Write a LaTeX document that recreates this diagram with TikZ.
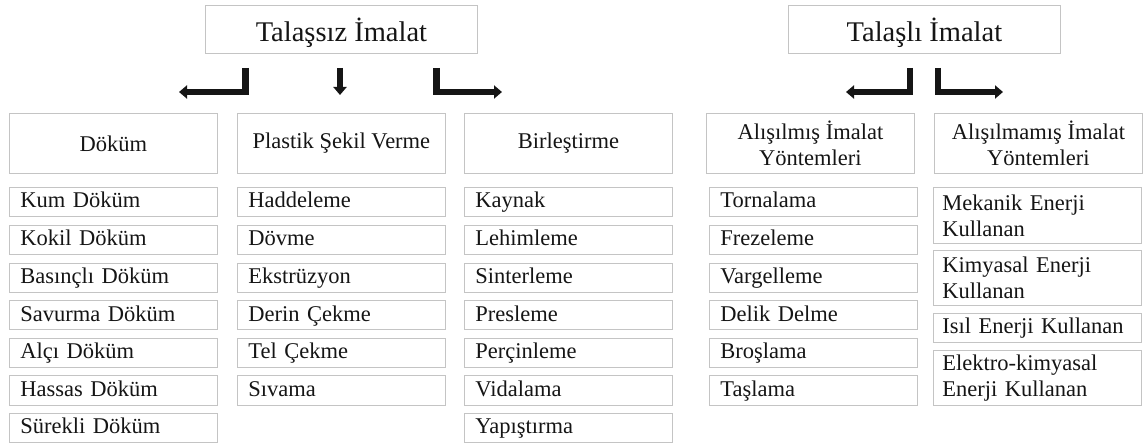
\documentclass[tikz,border=0pt]{standalone}
\usepackage{fontspec}
\setmainfont{Liberation Serif}
\usetikzlibrary{arrows.meta}
\definecolor{boxgray}{HTML}{C4C4C4}
\definecolor{ink}{HTML}{151515}
\newcommand{\itemfnt}{\fontsize{22.5}{26}\selectfont}
\newcommand{\titlefnt}{\fontsize{28.5}{32}\selectfont}
\begin{document}
\begin{tikzpicture}[x=1pt,y=-1pt,
  box/.style={draw=boxgray, line width=0.9pt, text=ink, inner ysep=0pt},
  item/.style={box, anchor=north west, minimum height=29pt, text width=186pt, inner xsep=11pt, align=left, font=\itemfnt, text height=16pt, text depth=4pt},
  pad/.style={inner xsep=#1, text width=208pt-2*#1},
  itemtwo/.style={box, anchor=north west, text width=190pt, inner xsep=9pt, align=left, font=\itemfnt},
  hdr/.style={box, anchor=north west, minimum width=208pt, minimum height=60pt, inner xsep=2pt, align=center, font=\itemfnt},
  ttl/.style={box, anchor=north west, minimum width=272pt, minimum height=48pt, font=\titlefnt, text height=24pt, text depth=0pt},
  bigarrow/.style={draw=ink, line width=6.5pt, line join=miter, -{Triangle[length=8pt,width=13pt]}}]
\useasboundingbox (0,0) rectangle (1143,443);

% titles
\node[ttl] (tsz) at (205,5) {Talaşsız İmalat};
\node[ttl] (tli) at (788,5) {Talaşlı İmalat};

% arrows
\coordinate (a1s) at (245.5,68); \coordinate (a1e) at (179,92);
\coordinate (a2s) at (340,68);   \coordinate (a2e) at (340,95);
\coordinate (a3s) at (436.5,68); \coordinate (a3e) at (502,92);
\coordinate (a4s) at (910,68);   \coordinate (a4e) at (846,92);
\coordinate (a5s) at (938,68);   \coordinate (a5e) at (1003,92);
\draw[bigarrow] (a1s) |- (a1e);
\draw[bigarrow] (a2s) -- (a2e);
\draw[bigarrow] (a3s) |- (a3e);
\draw[bigarrow] (a4s) |- (a4e);
\draw[bigarrow] (a5s) |- (a5e);

% headers
\node[hdr] (hdk) at (9,113) {Döküm};
\node[hdr] (hps) at (237,113) {Plastik Şekil Verme};
\node[hdr] (hbr) at (464,113) {Birleştirme};
\node[hdr] (hal) at (706,113) {Alışılmış İmalat\\Yöntemleri};
\node[hdr] (ham) at (934,113) {Alışılmamış İmalat\\Yöntemleri};

% Döküm
\begin{scope}[every node/.append style={pad=13pt}]
\node[item] (d1) at (9,187) {Kum Döküm};
\node[item] (d2) at (9,225) {Kokil Döküm};
\node[item] (d3) at (9,263) {Basınçlı Döküm};
\node[item] (d4) at (9,300.5) {Savurma Döküm};
\node[item] (d5) at (9,338) {Alçı Döküm};
\node[item] (d6) at (9,375.5) {Hassas Döküm};
\node[item] (d7) at (9,413) {Sürekli Döküm};
\end{scope}

% Plastik Şekil Verme
\begin{scope}[every node/.append style={pad=10pt}]
\node[item] (p1) at (237,187) {Haddeleme};
\node[item] (p2) at (237,225) {Dövme};
\node[item] (p3) at (237,263) {Ekstrüzyon};
\node[item] (p4) at (237,300.5) {Derin Çekme};
\node[item] (p5) at (237,338) {Tel Çekme};
\node[item] (p6) at (237,375.5) {Sıvama};
\end{scope}

% Birleştirme
\begin{scope}[every node/.append style={pad=12.5pt}]
\node[item] (b1) at (464,187) {Kaynak};
\node[item] (b2) at (464,225) {Lehimleme};
\node[item] (b3) at (464,263) {Sinterleme};
\node[item] (b4) at (464,300.5) {Presleme};
\node[item] (b5) at (464,338) {Perçinleme};
\node[item] (b6) at (464,375.5) {Vidalama};
\node[item] (b7) at (464,413) {Yapıştırma};
\end{scope}

% Alışılmış
\node[item] (s1) at (709,187) {Tornalama};
\node[item] (s2) at (709,225) {Frezeleme};
\node[item] (s3) at (709,263) {Vargelleme};
\node[item] (s4) at (709,300.5) {Delik Delme};
\node[item] (s5) at (709,338) {Broşlama};
\node[item] (s6) at (709,375.5) {Taşlama};

% Alışılmamış
\node[itemtwo, minimum height=56pt] (m1) at (933,187) {Mekanik Enerji\\Kullanan};
\node[itemtwo, minimum height=55pt] (m2) at (933,250) {Kimyasal Enerji\\Kullanan};
\node[item, pad=9pt] (m3) at (933,313) {Isıl Enerji Kullanan};
\node[itemtwo, minimum height=55pt] (m4) at (933,350) {Elektro-kimyasal\\Enerji Kullanan};
\end{tikzpicture}
\end{document}
